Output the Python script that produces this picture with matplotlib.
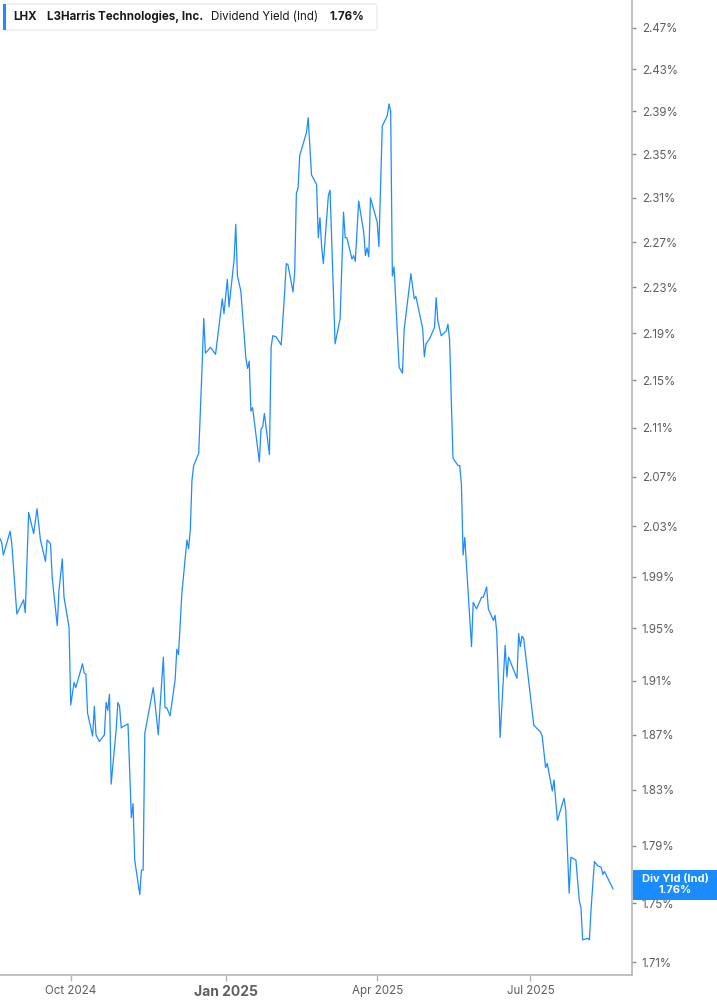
import matplotlib
matplotlib.use('Agg')
import matplotlib.pyplot as plt
from matplotlib.patches import FancyBboxPatch, Rectangle
from matplotlib.ticker import FixedLocator, NullLocator
import pandas as pd

plt.rcParams['font.family'] = ['Inter', 'DejaVu Sans']

# 股息率数据 (LHX, Dividend Yield Ind, %)
dates = [
    '2024-08-20', '2024-08-21', '2024-08-22', '2024-08-26', '2024-08-27', '2024-08-30',
    '2024-09-03', '2024-09-04', '2024-09-06', '2024-09-09', '2024-09-11', '2024-09-13',
    '2024-09-16', '2024-09-17', '2024-09-19', '2024-09-20', '2024-09-23', '2024-09-24',
    '2024-09-26', '2024-09-27', '2024-09-30', '2024-10-01', '2024-10-03', '2024-10-04',
    '2024-10-08', '2024-10-09', '2024-10-10', '2024-10-11', '2024-10-14', '2024-10-15',
    '2024-10-16', '2024-10-18', '2024-10-21', '2024-10-22', '2024-10-23', '2024-10-24',
    '2024-10-25', '2024-10-28', '2024-10-29', '2024-10-30', '2024-10-31', '2024-11-01',
    '2024-11-04', '2024-11-06', '2024-11-07', '2024-11-08', '2024-11-11', '2024-11-12',
    '2024-11-13', '2024-11-14', '2024-11-19', '2024-11-20', '2024-11-22', '2024-11-23',
    '2024-11-25', '2024-11-26', '2024-11-27', '2024-11-29', '2024-12-02', '2024-12-03',
    '2024-12-04', '2024-12-06', '2024-12-09', '2024-12-10', '2024-12-11', '2024-12-12',
    '2024-12-13', '2024-12-16', '2024-12-18', '2024-12-19', '2024-12-20', '2024-12-23',
    '2024-12-26', '2024-12-30', '2024-12-31', '2025-01-02', '2025-01-03', '2025-01-06',
    '2025-01-07', '2025-01-08', '2025-01-10', '2025-01-13', '2025-01-14', '2025-01-15',
    '2025-01-16', '2025-01-17', '2025-01-21', '2025-01-22', '2025-01-23', '2025-01-24',
    '2025-01-27', '2025-01-28', '2025-01-29', '2025-01-31', '2025-02-03', '2025-02-05',
    '2025-02-06', '2025-02-07', '2025-02-10', '2025-02-11', '2025-02-12', '2025-02-13',
    '2025-02-14', '2025-02-18', '2025-02-19', '2025-02-21', '2025-02-24', '2025-02-25',
    '2025-02-26', '2025-02-27', '2025-02-28', '2025-03-03', '2025-03-04', '2025-03-07',
    '2025-03-10', '2025-03-12', '2025-03-13', '2025-03-14', '2025-03-17', '2025-03-18',
    '2025-03-19', '2025-03-21', '2025-03-24', '2025-03-25', '2025-03-26', '2025-03-27',
    '2025-03-28', '2025-04-01', '2025-04-02', '2025-04-04', '2025-04-07', '2025-04-08',
    '2025-04-09', '2025-04-10', '2025-04-11', '2025-04-14', '2025-04-16', '2025-04-17',
    '2025-04-21', '2025-04-23', '2025-04-24', '2025-04-28', '2025-04-29', '2025-04-30',
    '2025-05-02', '2025-05-05', '2025-05-06', '2025-05-07', '2025-05-09', '2025-05-12',
    '2025-05-13', '2025-05-14', '2025-05-16', '2025-05-19', '2025-05-20', '2025-05-21',
    '2025-05-22', '2025-05-23', '2025-05-27', '2025-05-28', '2025-05-30', '2025-06-02',
    '2025-06-03', '2025-06-05', '2025-06-06', '2025-06-09', '2025-06-10', '2025-06-11',
    '2025-06-13', '2025-06-16', '2025-06-17', '2025-06-18', '2025-06-23', '2025-06-24',
    '2025-06-25', '2025-06-26', '2025-06-27', '2025-07-03', '2025-07-07', '2025-07-08',
    '2025-07-10', '2025-07-11', '2025-07-14', '2025-07-15', '2025-07-17', '2025-07-21',
    '2025-07-22', '2025-07-24', '2025-07-25', '2025-07-28', '2025-07-30', '2025-07-31',
    '2025-08-01', '2025-08-04', '2025-08-05', '2025-08-06', '2025-08-08', '2025-08-10',
    '2025-08-12', '2025-08-13', '2025-08-14', '2025-08-19',
]
yields = [
    2.020, 2.017, 2.007, 2.026, 2.016, 1.961,
    1.972, 1.962, 2.041, 2.024, 2.044, 2.019,
    2.002, 2.019, 2.016, 1.989, 1.952, 1.979,
    2.004, 1.974, 1.951, 1.892, 1.909, 1.905,
    1.923, 1.916, 1.915, 1.886, 1.869, 1.891,
    1.870, 1.865, 1.870, 1.894, 1.888, 1.900,
    1.834, 1.874, 1.894, 1.891, 1.875, 1.876,
    1.878, 1.810, 1.820, 1.780, 1.756, 1.773,
    1.773, 1.871, 1.905, 1.894, 1.870, 1.890,
    1.928, 1.890, 1.890, 1.884, 1.911, 1.934,
    1.930, 1.977, 2.019, 2.012, 2.027, 2.067,
    2.079, 2.089, 2.161, 2.203, 2.173, 2.178,
    2.172, 2.220, 2.207, 2.237, 2.213, 2.254,
    2.286, 2.240, 2.227, 2.169, 2.160, 2.166,
    2.124, 2.127, 2.082, 2.109, 2.111, 2.122,
    2.088, 2.178, 2.188, 2.187, 2.180, 2.225,
    2.251, 2.250, 2.226, 2.243, 2.314, 2.319,
    2.349, 2.370, 2.384, 2.331, 2.322, 2.274,
    2.292, 2.266, 2.251, 2.312, 2.317, 2.181,
    2.203, 2.297, 2.274, 2.274, 2.255, 2.258,
    2.253, 2.307, 2.279, 2.258, 2.265, 2.257,
    2.310, 2.288, 2.266, 2.376, 2.386, 2.397,
    2.390, 2.240, 2.248, 2.161, 2.156, 2.193,
    2.242, 2.220, 2.222, 2.194, 2.170, 2.181,
    2.185, 2.195, 2.221, 2.201, 2.188, 2.192,
    2.198, 2.184, 2.085, 2.079, 2.079, 2.064,
    2.007, 2.021, 1.936, 1.970, 1.965, 1.974,
    1.974, 1.982, 1.965, 1.956, 1.960, 1.947,
    1.868, 1.937, 1.913, 1.928, 1.912, 1.946,
    1.936, 1.944, 1.942, 1.877, 1.872, 1.869,
    1.846, 1.849, 1.829, 1.837, 1.808, 1.824,
    1.815, 1.757, 1.782, 1.780, 1.752, 1.747,
    1.725, 1.726, 1.725, 1.746, 1.779, 1.776,
    1.775, 1.770, 1.772, 1.760,
]

y_ticks = [1.71, 1.75, 1.79, 1.83, 1.87, 1.91, 1.95, 1.99, 2.03, 2.07,
           2.11, 2.15, 2.19, 2.23, 2.27, 2.31, 2.35, 2.39, 2.43, 2.47]
x_tick_dates = ['2024-10-01', '2025-01-01', '2025-04-01', '2025-07-01']
x_tick_labels = ['Oct 2024', 'Jan 2025', 'Apr 2025', 'Jul 2025']

ticker = 'LHX'
company = 'L3Harris Technologies, Inc.'
metric = 'Dividend Yield (Ind)'
last_label = '1.76%'

line_color = '#1e8cff'
axis_color = '#b5b5b5'
text_color = '#5f5f5f'

fig = plt.figure(figsize=(7.17, 10.05), dpi=100)
ax = fig.add_axes([0, 0.02985, 0.8815, 0.97015])

x = pd.to_datetime(dates)
ax.plot(x, yields, color=line_color, linewidth=0.9)

ax.set_yscale('log')
ax.set_ylim(1.7013, 2.497)
ax.set_xlim(pd.Timestamp('2024-08-20'), pd.Timestamp('2025-08-30 08:00'))

ax.yaxis.set_major_locator(FixedLocator(y_ticks))
ax.yaxis.set_minor_locator(NullLocator())
ax.set_yticklabels([f'{v:.2f}%' for v in y_ticks])
ax.yaxis.tick_right()
ax.tick_params(axis='y', length=3, width=1, color='#8a8a8a', labelcolor=text_color,
               labelsize=8.3, pad=4)

ax.set_xticks(pd.to_datetime(x_tick_dates))
ax.set_xticklabels(x_tick_labels)
ax.tick_params(axis='x', length=4, width=1, color=axis_color, labelcolor=text_color,
               labelsize=8.3, pad=3)
for lbl in ax.get_xticklabels():
    if lbl.get_text().startswith('Jan'):
        lbl.set_fontweight('bold')
        lbl.set_fontsize(10)

for side in ['top', 'left']:
    ax.spines[side].set_visible(False)
for side in ['bottom', 'right']:
    ax.spines[side].set_color(axis_color)
    ax.spines[side].set_linewidth(1.2)

# 顶部标题框
W, H = 717, 1005
def fx(px):
    return px / W
def fy(py):
    return 1 - py / H

box = FancyBboxPatch((fx(4), fy(30)), fx(373), 26 / H,
                     boxstyle='round,pad=0,rounding_size=0.004',
                     transform=fig.transFigure, facecolor='white',
                     edgecolor='#e6e6e6', linewidth=0.8, zorder=5)
fig.patches.append(box)
fig.patches.append(Rectangle((fx(3), fy(30)), fx(3), 26 / H, transform=fig.transFigure,
                             facecolor=line_color, edgecolor='none', zorder=6))
hdr_size = 8.3
fig.text(fx(13), fy(17), ticker, fontsize=hdr_size, fontweight='bold', color='#1a1a1a',
         va='center', ha='left', zorder=7)
fig.text(fx(47), fy(17), company, fontsize=hdr_size, fontweight='bold', color='#1a1a1a',
         va='center', ha='left', zorder=7)
fig.text(fx(211), fy(17), metric, fontsize=hdr_size, color='#1a1a1a',
         va='center', ha='left', zorder=7)
fig.text(fx(329), fy(17), last_label, fontsize=hdr_size, fontweight='bold', color='#1a1a1a',
         va='center', ha='left', zorder=7)

# 右侧最新值标签
fig.patches.append(Rectangle((fx(633), fy(900)), fx(84), 30 / H, transform=fig.transFigure,
                             facecolor='#1a8cff', edgecolor='none', zorder=5))
fig.text(fx(675), fy(879), 'Div Yld (Ind)', fontsize=8, fontweight='bold', color='white',
         va='center', ha='center', zorder=6)
fig.text(fx(675), fy(890), last_label, fontsize=8, fontweight='bold', color='white',
         va='center', ha='center', zorder=6)

fig.savefig('out.png', dpi=100)
plt.close(fig)
